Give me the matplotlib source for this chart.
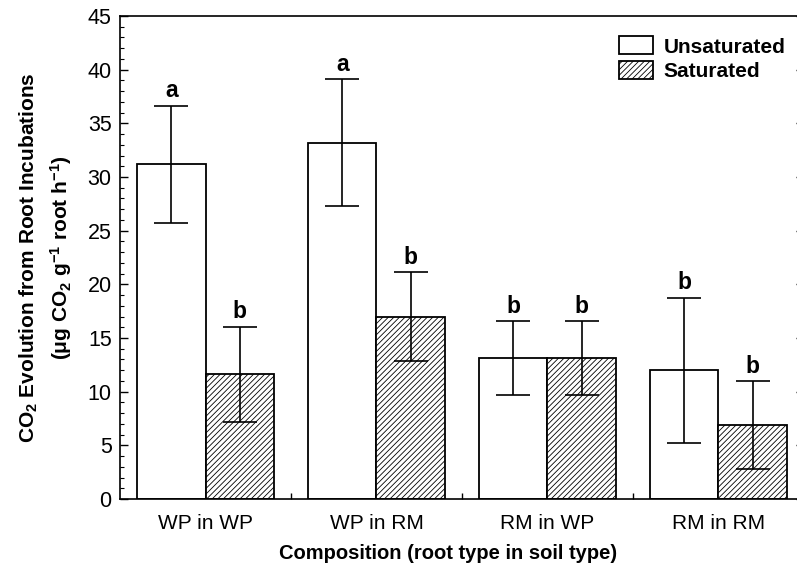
import numpy as np
import matplotlib
matplotlib.use("Agg")
import matplotlib.pyplot as plt
from matplotlib.ticker import MultipleLocator, FixedLocator

plt.rcParams['font.family'] = ['Liberation Sans', 'DejaVu Sans']
plt.rcParams['mathtext.fontset'] = 'custom'
plt.rcParams['mathtext.rm'] = 'Liberation Sans:bold'
plt.rcParams['mathtext.it'] = 'Liberation Sans:bold'
plt.rcParams['mathtext.default'] = 'rm'
plt.rcParams['hatch.linewidth'] = 0.6

# data
groups = ['WP in WP', 'WP in RM', 'RM in WP', 'RM in RM']
unsat_mean = [31.2, 33.2, 13.1, 12.0]
unsat_err = [5.45, 5.9, 3.45, 6.75]
sat_mean = [11.6, 17.0, 13.1, 6.85]
sat_err = [4.45, 4.15, 3.45, 4.1]
unsat_letters = ['a', 'a', 'b', 'b']
sat_letters = ['b', 'b', 'b', 'b']

fig = plt.figure(figsize=(7.97, 5.66), dpi=100)
ax = fig.add_axes([0.1506, 0.1184, 0.858, 0.8534])

x = np.arange(len(groups))
w = 0.4
err_kw = dict(ecolor='black', elinewidth=1.2, capsize=12.5, capthick=1.2)

ax.bar(x - w / 2, unsat_mean, w, yerr=unsat_err, color='white',
       edgecolor='black', linewidth=1.3, label='Unsaturated', error_kw=err_kw)
ax.bar(x + w / 2, sat_mean, w, yerr=sat_err, color='white',
       edgecolor='black', linewidth=1.3, hatch='//////', label='Saturated', error_kw=err_kw)

for i in range(len(groups)):
    ax.annotate(unsat_letters[i], (x[i] - w / 2, unsat_mean[i] + unsat_err[i]),
                xytext=(0, 6), textcoords='offset points', ha='center', va='baseline',
                fontsize=16.5, fontweight='bold')
    ax.annotate(sat_letters[i], (x[i] + w / 2, sat_mean[i] + sat_err[i]),
                xytext=(0, 6), textcoords='offset points', ha='center', va='baseline',
                fontsize=16.5, fontweight='bold')

ax.set_xlim(-0.5, 3.5)
ax.set_ylim(0, 45)
ax.yaxis.set_major_locator(MultipleLocator(5))
ax.yaxis.set_minor_locator(MultipleLocator(1))
ax.set_xticks(x)
ax.set_xticklabels(groups)
ax.xaxis.set_minor_locator(FixedLocator([0.5, 1.5, 2.5]))

ax.tick_params(axis='y', which='both', direction='in', left=True, right=True,
               labelsize=15.5, pad=6)
ax.tick_params(axis='y', which='major', length=6, width=1)
ax.tick_params(axis='y', which='minor', length=3, width=0.8)
ax.tick_params(axis='x', which='major', length=0, labelsize=15, pad=11)
ax.tick_params(axis='x', which='minor', direction='in', length=4, width=1, bottom=True)

for s in ax.spines.values():
    s.set_linewidth(1.2)

ax.set_xlabel('Composition (root type in soil type)', fontsize=14.5, fontweight='bold')
ax.xaxis.set_label_coords(0.48, -0.093)
ax.set_ylabel('CO$_2$ Evolution from Root Incubations\n(μg CO$_2$ g$^{-1}$ root h$^{-1}$)',
              fontsize=15, fontweight='bold', labelpad=10, linespacing=1.4)

ax.legend(loc='upper left', bbox_to_anchor=(0.717, 0.975), frameon=False,
          prop={'size': 15, 'weight': 'bold'}, handlelength=1.65, handleheight=0.95,
          labelspacing=0.2, handletextpad=0.5, borderaxespad=0)

fig.savefig('out.png', dpi=100)
